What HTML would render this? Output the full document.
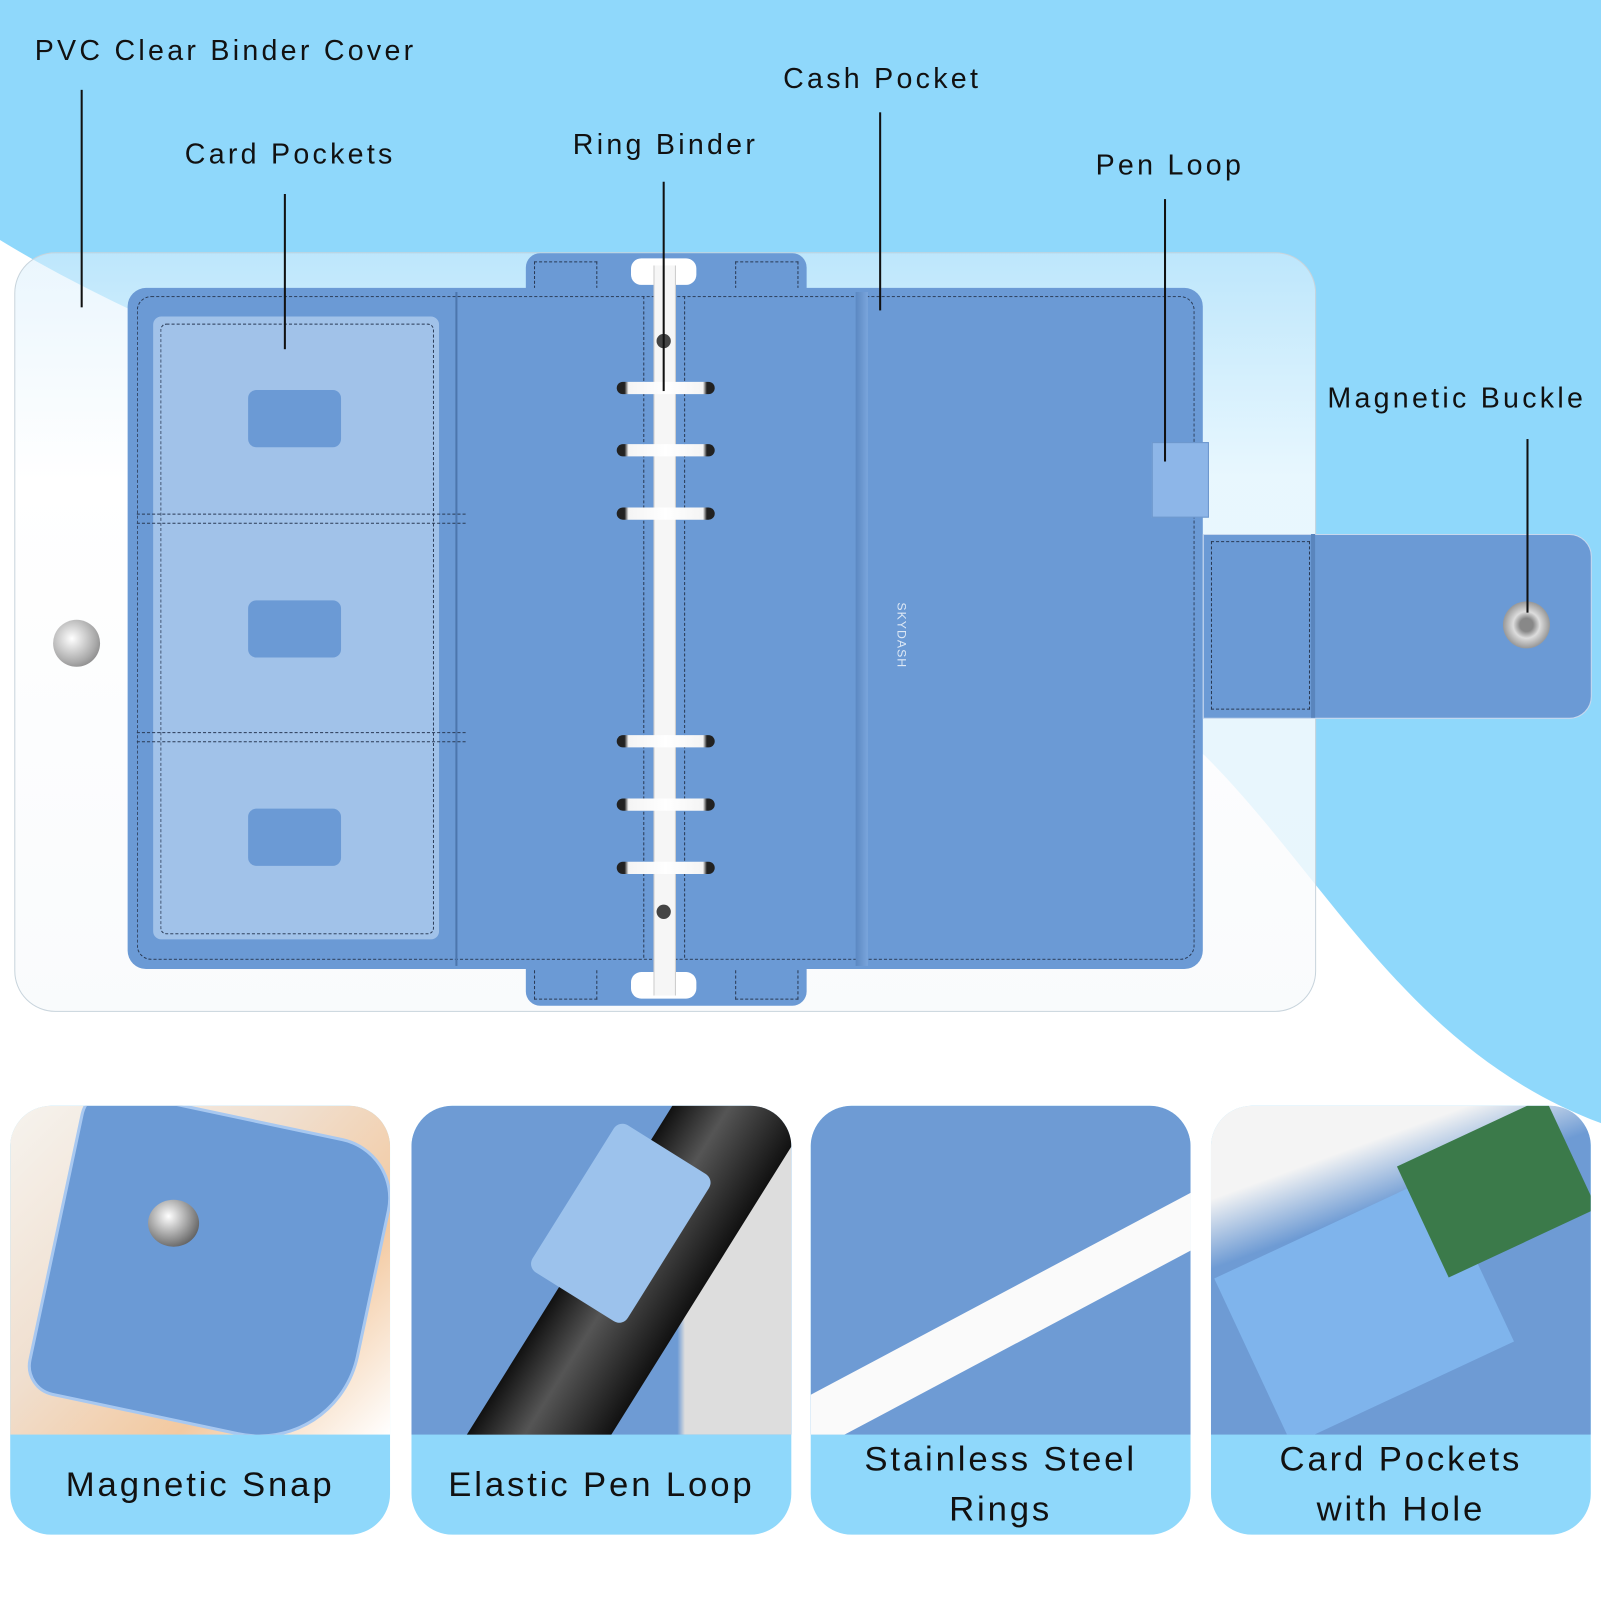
<!DOCTYPE html>
<html><head><meta charset="utf-8"><style>
html,body{margin:0;padding:0;width:1601px;height:1601px;overflow:hidden;background:#fff}
#w{position:absolute;left:0;top:0;width:1568px;height:1568px;transform:scale(1.02105);transform-origin:0 0;font-family:"Liberation Sans",sans-serif}
.a{position:absolute}
.lbl{position:absolute;font-size:28px;letter-spacing:3.2px;color:#111;white-space:nowrap}
.ln{position:absolute;width:2px;background:#111}
.card{position:absolute;top:1083px;width:372px;height:420px;border-radius:40px;overflow:hidden;background:#8fd8fb}
.ph{position:absolute;left:0;top:0;width:372px;height:322px;overflow:hidden}
.cap{position:absolute;left:0;right:0;top:322px;bottom:0;display:flex;align-items:center;justify-content:center;text-align:center;font-size:34px;letter-spacing:2.8px;line-height:49px;color:#111}
.ring{position:absolute;left:604px;width:96px;height:12px;border-radius:6px;background:linear-gradient(90deg,#222 0,#222 8%,#f4f4f4 12%,#fff 50%,#f4f4f4 88%,#222 92%)}
.slot{position:absolute;left:243px;width:91px;height:56px;border-radius:8px;background:#6b9ad5}
.dash{position:absolute;border:1.5px dashed #2a3a55}
</style></head><body><div id="w">
<svg class="a" style="left:0;top:0" width="1568" height="1568">
<rect width="1568" height="1568" fill="#8fd8fb"/>
<path d="M0,235 C300,420 1000,600 1180,740 C1300,860 1380,1030 1568,1100 L1568,1568 L0,1568 Z" fill="#fff"/>
</svg>
<!-- PVC cover -->
<div class="a" style="left:14px;top:247px;width:1273px;height:742px;border-radius:40px;border:1px solid #c8d4dc;background:linear-gradient(180deg,rgba(220,240,252,.6),rgba(255,255,255,.8) 30%,rgba(248,250,252,.85))"></div>
<div class="a" style="left:52px;top:607px;width:46px;height:46px;border-radius:50%;background:radial-gradient(circle at 40% 40%,#fff,#aaa 60%,#666)"></div>
<!-- tabs -->
<div class="a" style="left:515px;top:248px;width:275px;height:50px;border-radius:14px;background:#6b9ad5"></div>
<div class="a" style="left:515px;top:935px;width:275px;height:50px;border-radius:14px;background:#6b9ad5"></div>
<div class="dash" style="left:523px;top:256px;width:60px;height:40px;border-bottom:none"></div>
<div class="dash" style="left:720px;top:256px;width:60px;height:40px;border-bottom:none"></div>
<div class="dash" style="left:523px;top:940px;width:60px;height:38px;border-top:none"></div>
<div class="dash" style="left:720px;top:940px;width:60px;height:38px;border-top:none"></div>
<!-- binder -->
<div class="a" style="left:125px;top:282px;width:1053px;height:667px;border-radius:18px;background:#6b9ad5"></div>
<div class="dash" style="left:134px;top:290px;width:1034px;height:648px;border-radius:14px"></div>
<div class="a" style="left:150px;top:310px;width:280px;height:610px;background:rgba(190,215,245,.65);border-radius:8px"></div>
<div class="dash" style="left:157px;top:317px;width:266px;height:596px;border-radius:6px"></div>
<div class="dash" style="left:134px;top:503px;width:322px;height:8px;border-left:none;border-right:none"></div>
<div class="dash" style="left:134px;top:717px;width:322px;height:8px;border-left:none;border-right:none"></div>
<div class="slot" style="top:382px"></div><div class="slot" style="top:588px"></div><div class="slot" style="top:792px"></div>
<div class="a" style="left:446px;top:286px;width:2px;height:660px;background:#4c76ad"></div>
<div class="a" style="left:838px;top:286px;width:12px;height:660px;background:linear-gradient(90deg,#5b88c2,#7aa5dc)"></div>
<div class="dash" style="left:670px;top:290px;width:0;height:648px;border-width:0 0 0 1.5px"></div>
<div class="dash" style="left:630px;top:290px;width:0;height:648px;border-width:0 0 0 1.5px"></div>
<div class="a" style="left:890px;top:590px;font-size:12px;color:#dde8f5;transform:rotate(90deg);transform-origin:0 0;letter-spacing:1px">SKYDASH</div>
<!-- spine -->
<div class="a" style="left:618px;top:253px;width:64px;height:26px;border-radius:10px;background:#fff"></div>
<div class="a" style="left:618px;top:952px;width:64px;height:26px;border-radius:10px;background:#fff"></div>
<div class="a" style="left:640px;top:260px;width:20px;height:715px;background:#f6f6f6;border-left:1px solid #ccc;border-right:1px solid #ccc"></div>
<div class="a" style="left:643px;top:327px;width:14px;height:14px;border-radius:50%;background:#444"></div>
<div class="a" style="left:643px;top:886px;width:14px;height:14px;border-radius:50%;background:#444"></div>
<div class="ring" style="top:374px"></div><div class="ring" style="top:435px"></div><div class="ring" style="top:497px"></div>
<div class="ring" style="top:720px"></div><div class="ring" style="top:782px"></div><div class="ring" style="top:844px"></div>
<!-- pen loop -->
<div class="a" style="left:1128px;top:433px;width:54px;height:72px;background:#8db6e8;border:1px solid #6a95cc"></div>
<!-- strap -->
<div class="a" style="left:1178px;top:523px;width:379px;height:179px;border-radius:0 22px 22px 0;background:#6b9ad5;border:1px solid #c8d8ee"></div>
<div class="a" style="left:1284px;top:523px;width:4px;height:180px;background:#5a85bd"></div>
<div class="dash" style="left:1186px;top:530px;width:95px;height:163px"></div>
<div class="a" style="left:1472px;top:589px;width:46px;height:46px;border-radius:50%;background:radial-gradient(circle,#888 20%,#ddd 40%,#999 70%,#bbb)"></div>
<!-- labels -->
<div class="lbl" style="left:34px;top:34px">PVC Clear Binder Cover</div><div class="ln" style="left:79px;top:88px;height:213px"></div>
<div class="lbl" style="left:181px;top:135px">Card Pockets</div><div class="ln" style="left:278px;top:190px;height:152px"></div>
<div class="lbl" style="left:561px;top:126px">Ring Binder</div><div class="ln" style="left:649px;top:178px;height:205px"></div>
<div class="lbl" style="left:767px;top:61px">Cash Pocket</div><div class="ln" style="left:861px;top:110px;height:194px"></div>
<div class="lbl" style="left:1073px;top:146px">Pen Loop</div><div class="ln" style="left:1140px;top:195px;height:257px"></div>
<div class="lbl" style="left:1300px;top:374px">Magnetic Buckle</div><div class="ln" style="left:1495px;top:430px;height:170px"></div>
<!-- bottom cards -->
<div class="card" style="left:10px"><div class="ph" style="background:linear-gradient(135deg,#f6f3ee,#f0dfcf 40%,#f3c9a0 70%,#fff)">
 <div class="a" style="left:40px;top:8px;width:310px;height:300px;border-radius:30px 60px 100px 30px;background:#6b9ad5;transform:rotate(12deg);border:3px solid #a8c8f0"></div>
 <div class="a" style="left:135px;top:92px;width:50px;height:46px;border-radius:50%;background:radial-gradient(circle at 40% 35%,#fff,#999 50%,#333)"></div></div>
 <div class="cap">Magnetic Snap</div></div>
<div class="card" style="left:403px"><div class="ph" style="background:#6e9bd4">
 <div class="a" style="left:0;top:0;width:372px;height:322px;background:linear-gradient(90deg,transparent 70%,#ddd 72%)"></div>
 <div class="a" style="left:160px;top:-60px;width:120px;height:460px;background:linear-gradient(90deg,#111,#555 40%,#111);transform:rotate(32deg)"></div>
 <div class="a" style="left:150px;top:30px;width:110px;height:170px;background:#9cc2ec;transform:rotate(32deg);border-radius:10px"></div></div>
 <div class="cap">Elastic Pen Loop</div></div>
<div class="card" style="left:794px"><div class="ph" style="background:#6e9bd4">
 <div class="a" style="left:-40px;top:180px;width:480px;height:50px;background:#fafafa;transform:rotate(-28deg)"></div></div>
 <div class="cap">Stainless Steel<br>Rings</div></div>
<div class="card" style="left:1186px"><div class="ph" style="background:linear-gradient(160deg,#f4f4f4 20%,#6e9bd4 35%)">
 <div class="a" style="left:30px;top:110px;width:240px;height:180px;background:#7fb4ec;transform:rotate(-25deg)"></div>
 <div class="a" style="left:200px;top:20px;width:160px;height:120px;background:#3b7a4a;transform:rotate(-25deg)"></div></div>
 <div class="cap">Card Pockets<br>with Hole</div></div>
</div></body></html>
